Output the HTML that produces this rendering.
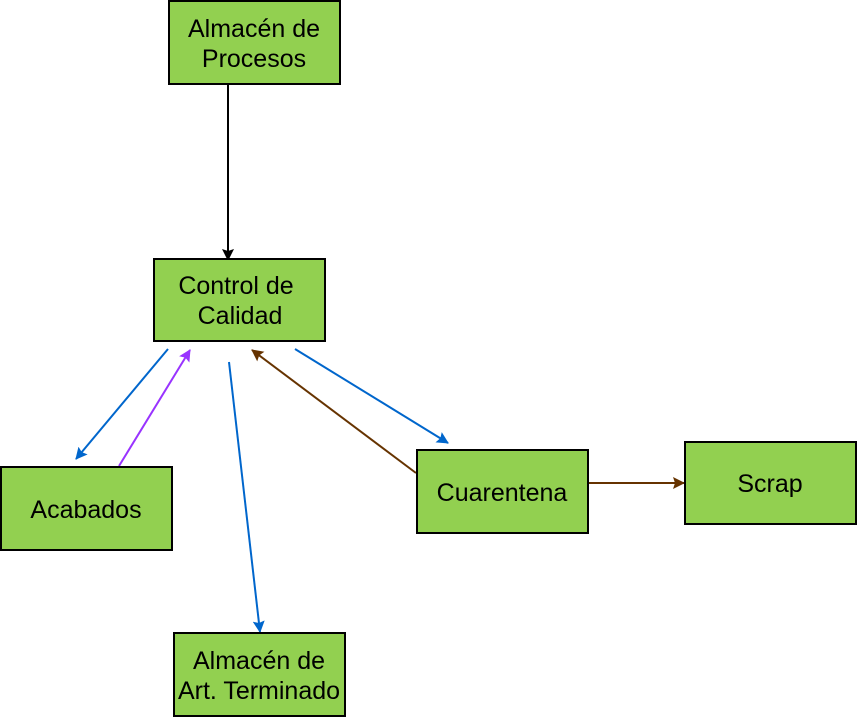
<!DOCTYPE html>
<html><head><meta charset="utf-8"><style>
body{margin:0;background:#fff;width:857px;height:720px;overflow:hidden}
svg{display:block}
text{font-family:"Liberation Sans",sans-serif;font-size:25px;fill:#000;text-anchor:middle}
rect{fill:#92d050;stroke:#000;stroke-width:2}
</style></head><body>
<svg width="857" height="720" viewBox="0 0 857 720">
<defs>
<marker id="k" markerWidth="12" markerHeight="12" refX="11" refY="6" orient="auto" markerUnits="userSpaceOnUse"><path d="M0,0 L12,6 L0,12 L2,6z" fill="#000"/></marker>
<marker id="b" markerWidth="12" markerHeight="12" refX="11" refY="6" orient="auto" markerUnits="userSpaceOnUse"><path d="M0,0 L12,6 L0,12 L2,6z" fill="#0066cc"/></marker>
<marker id="p" markerWidth="12" markerHeight="12" refX="11" refY="6" orient="auto" markerUnits="userSpaceOnUse"><path d="M0,0 L12,6 L0,12 L2,6z" fill="#9933ff"/></marker>
<marker id="r" markerWidth="12" markerHeight="12" refX="11" refY="6" orient="auto" markerUnits="userSpaceOnUse"><path d="M0,0 L12,6 L0,12 L2,6z" fill="#663300"/></marker>
</defs>
<g stroke-width="2" fill="none">
<line x1="228" y1="84" x2="228" y2="260" stroke="#000" marker-end="url(#k)"/>
<line x1="168" y1="349" x2="76" y2="459" stroke="#0066cc" marker-end="url(#b)"/>
<line x1="119" y1="466" x2="190" y2="350" stroke="#9933ff" marker-end="url(#p)"/>
<line x1="229" y1="362" x2="260" y2="632" stroke="#0066cc" marker-end="url(#b)"/>
<line x1="416" y1="473" x2="252" y2="350" stroke="#663300" marker-end="url(#r)"/>
<line x1="295" y1="349" x2="448" y2="443" stroke="#0066cc" marker-end="url(#b)"/>
<line x1="588" y1="483" x2="684" y2="483" stroke="#663300" marker-end="url(#r)"/>
</g>
<rect x="169" y="1" width="171" height="83"/>
<text x="254" y="37">Almacén de</text><text x="254" y="67">Procesos</text>
<rect x="154" y="259" width="171" height="82"/>
<text x="236" y="294">Control de</text><text x="240" y="324">Calidad</text>
<rect x="1" y="467" width="171" height="83"/>
<text x="86" y="518">Acabados</text>
<rect x="417" y="450" width="171" height="83"/>
<text x="502" y="501">Cuarentena</text>
<rect x="685" y="442" width="171" height="82"/>
<text x="770" y="492">Scrap</text>
<rect x="174" y="633" width="171" height="83"/>
<text x="259" y="669">Almacén de</text><text x="259" y="699">Art. Terminado</text>
</svg>
</body></html>
